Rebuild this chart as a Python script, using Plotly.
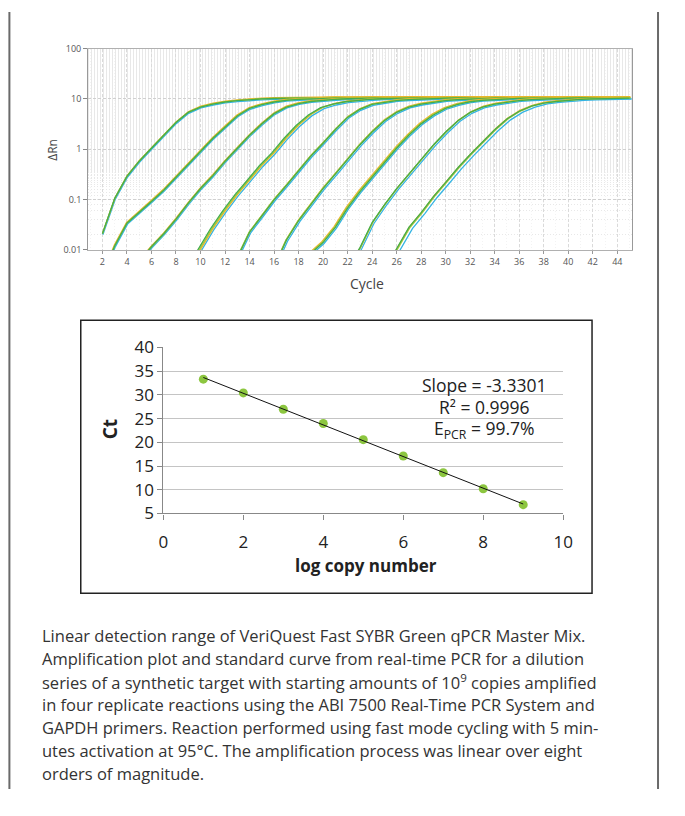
import numpy as np
import plotly.graph_objects as go

# The page adds an 8px body margin, so the figure is sized to fit inside it.
PAGE_W, PAGE_H = 685, 816
OFF = 8
W, H = PAGE_W - 2 * OFF, PAGE_H - 2 * OFF

# ---------------- Amplification plot data ----------------
dilution_labels = ["1e9", "1e8", "1e7", "1e6", "1e5", "1e4", "1e3", "1e2", "1e1"]
start_cycles = [2, 2, 5, 9, 13, 16, 19, 22, 25]
curve_1e9 = [0.021, 0.105, 0.29, 0.58, 1.05, 1.9, 3.4, 5.4, 6.9, 7.9, 8.7, 9.25, 9.7, 10.0,
             10.2, 10.35, 10.45, 10.5, 10.55, 10.6, 10.6, 10.62, 10.63, 10.64, 10.65, 10.66,
             10.67, 10.68, 10.68, 10.69, 10.7, 10.7, 10.7, 10.71, 10.71, 10.72, 10.72, 10.72,
             10.73, 10.73, 10.73, 10.74, 10.74, 10.74]
curve_1e8 = [0.003, 0.012, 0.034, 0.055, 0.092, 0.154, 0.28, 0.50, 0.91, 1.64, 2.75, 4.6, 6.5,
             7.7, 8.7, 9.4, 9.8, 10.1, 10.3, 10.4, 10.5, 10.55, 10.6, 10.6, 10.62, 10.63, 10.64,
             10.65, 10.66, 10.67, 10.68, 10.68, 10.69, 10.7, 10.7, 10.7, 10.71, 10.71, 10.72,
             10.72, 10.72, 10.73, 10.73, 10.73]
curve_1e7 = [0.006, 0.0116, 0.021, 0.041, 0.085, 0.166, 0.30, 0.58, 1.05, 1.9, 3.2, 5.1, 6.9,
             8.1, 8.9, 9.4, 9.8, 10.1, 10.3, 10.4, 10.5, 10.55, 10.6, 10.6, 10.62, 10.63, 10.64,
             10.65, 10.66, 10.67, 10.68, 10.68, 10.69, 10.7, 10.7, 10.7, 10.71, 10.71, 10.72, 10.72, 10.72]
curve_1e6 = [0.004, 0.0105, 0.026, 0.059, 0.124, 0.24, 0.47, 0.84, 1.64, 2.96, 4.8, 6.7, 7.9,
             8.8, 9.4, 9.8, 10.1, 10.3, 10.4, 10.5, 10.55, 10.6, 10.6, 10.62, 10.63, 10.64,
             10.65, 10.66, 10.67, 10.68, 10.68, 10.69, 10.7, 10.7, 10.7, 10.71, 10.71]
curve_1e5 = [0.007, 0.0225, 0.047, 0.099, 0.19, 0.37, 0.73, 1.32, 2.45, 4.3, 6.2, 7.8, 8.6,
             9.3, 9.7, 10.0, 10.2, 10.35, 10.45, 10.5, 10.55, 10.6, 10.6, 10.62, 10.63, 10.64,
             10.65, 10.66, 10.67, 10.68, 10.68, 10.69, 10.7]
curve_1e4 = [0.0045, 0.0155, 0.038, 0.079, 0.166, 0.32, 0.63, 1.22, 2.2, 3.7, 5.4, 6.9, 7.9,
             8.7, 9.3, 9.7, 10.0, 10.2, 10.35, 10.45, 10.5, 10.55, 10.6, 10.6, 10.62, 10.63,
             10.64, 10.65, 10.66, 10.67]
curve_1e3 = [0.0085, 0.014, 0.028, 0.068, 0.143, 0.28, 0.54, 1.05, 1.9, 3.2, 4.8, 6.5, 7.8,
             8.8, 9.4, 9.8, 10.1, 10.3, 10.4, 10.5, 10.55, 10.6, 10.6, 10.62, 10.63, 10.64, 10.65]
curve_1e2 = [0.0045, 0.011, 0.035, 0.079, 0.166, 0.32, 0.63, 1.22, 2.2, 3.7, 5.4, 6.9, 7.9,
             8.7, 9.3, 9.7, 10.0, 10.2, 10.35, 10.45, 10.5, 10.55, 10.6, 10.6]
curve_1e1 = [0.004, 0.0105, 0.028, 0.055, 0.115, 0.22, 0.43, 0.79, 1.4, 2.45, 4.0, 5.7, 7.2,
             8.3, 8.9, 9.4, 9.8, 10.0, 10.2, 10.3, 10.4]
base_curves = [curve_1e9, curve_1e8, curve_1e7, curve_1e6, curve_1e5,
               curve_1e4, curve_1e3, curve_1e2, curve_1e1]

# replicate order: cyan, orange, lime, green (drawing order)
replicate_colors = ["#35b4e3", "#f0b52a", "#a9c93b", "#45ad4c"]
replicate_shift = [  # cycle offsets read per dilution
    [0.04, 0.03, 0.0, 0.0],
    [0.05, -0.03, 0.0, 0.0],
    [0.06, 0.0, 0.03, 0.0],
    [0.08, 0.04, -0.08, -0.2],
    [0.08, 0.03, -0.03, 0.0],
    [0.1, 0.0, -0.03, 0.0],
    [0.08, -0.1, -0.06, 0.0],
    [0.15, 0.08, 0.04, 0.0],
    [0.3, 0.06, 0.1, 0.0],
]
replicate_scale = [0.96, 1.04, 1.01, 1.0]

ytick_vals = [0.01, 0.1, 1, 10, 100]
ytick_text = ["0.01", "0.1", "1", "10", "100"]
xtick_vals = list(range(2, 45, 2))

# ---------------- Standard curve data ----------------
log_copy = [1, 2, 3, 4, 5, 6, 7, 8, 9]
ct_values = [33.3, 30.4, 26.95, 23.95, 20.55, 17.1, 13.6, 10.2, 6.85]
stats_lines = ["Slope = -3.3301", "R² = 0.9996", "E<sub>PCR</sub> = 99.7%"]

caption_lines = [
    "Linear detection range of VeriQuest Fast SYBR Green qPCR Master Mix.",
    "Amplification plot and standard curve from real-time PCR for a dilution",
    "series of a synthetic target with starting amounts of 10<sup>9</sup> copies amplified",
    "in four replicate reactions using the ABI 7500 Real-Time PCR System and",
    "GAPDH primers. Reaction performed using fast mode cycling with 5 min-",
    "utes activation at 95°C. The amplification process was linear over eight",
    "orders of magnitude.",
]


def px(x):
    return (x - OFF) / W


def py(y):
    return 1 - (y - OFF) / H


fig = go.Figure()

for d, (start, vals) in enumerate(zip(start_cycles, base_curves)):
    cycles = np.arange(start, start + len(vals))
    for r, color in enumerate(replicate_colors):
        fig.add_trace(go.Scatter(
            x=cycles + replicate_shift[d][r],
            y=np.array(vals) * replicate_scale[r],
            mode="lines", line=dict(color=color, width=1.3),
            xaxis="x", yaxis="y", showlegend=False, hoverinfo="skip"))

# standard curve
coef = np.polyfit(log_copy, ct_values, 1)
fit_x = [log_copy[0], log_copy[-1]]
fit_y = [coef[0] * v + coef[1] for v in fit_x]
fig.add_trace(go.Scatter(x=log_copy, y=ct_values, mode="markers",
                         marker=dict(color="#8cc63f", size=9),
                         xaxis="x2", yaxis="y2", showlegend=False))
fig.add_trace(go.Scatter(x=fit_x, y=fit_y, mode="lines",
                         line=dict(color="#111111", width=1),
                         xaxis="x2", yaxis="y2", showlegend=False))

FONT = "Open Sans, sans-serif"
small = dict(family=FONT, size=9, color="#555555")
big = dict(family=FONT, size=17, color="#222222")

fig.update_layout(
    width=W, height=H, margin=dict(l=0, r=0, t=0, b=0),
    paper_bgcolor="white", plot_bgcolor="white", showlegend=False,
    xaxis=dict(domain=[px(93), px(649)], range=[0.83, 45.17],
               tickvals=xtick_vals, ticktext=[str(v) for v in xtick_vals],
               tickfont=small, ticks="outside", ticklen=3, tickcolor="#999999",
               showline=True, linecolor="#b0b0b0", linewidth=1, mirror=True,
               showgrid=True, gridcolor="#dadada", griddash="3px,2px", gridwidth=1,
               minor=dict(dtick=1, showgrid=True, gridcolor="#f3f3f3", griddash="1px,2px"),
               zeroline=False, anchor="y"),
    yaxis=dict(domain=[py(253), py(45.7)], type="log", range=[-2, 2],
               tickvals=ytick_vals, ticktext=ytick_text, tickfont=small,
               ticks="outside", ticklen=4, tickcolor="#888888",
               showline=True, linecolor="#999999", linewidth=1, mirror=True,
               showgrid=True, gridcolor="#d0d0d0", griddash="3px,2px", gridwidth=1,
               minor=dict(showgrid=True, gridcolor="#e8e8e8", griddash="1px,2px"),
               zeroline=False, anchor="x"),
    xaxis2=dict(domain=[px(170), px(579)], range=[0, 10], dtick=2, tickfont=big,
                ticks="outside", ticklen=5, tickcolor="#888888", ticklabelstandoff=8,
                showline=True, linecolor="#888888", linewidth=1.2,
                showgrid=False, zeroline=False, anchor="y2"),
    yaxis2=dict(domain=[py(524.3), py(353.3)], range=[5, 40], dtick=5, tickfont=big,
                ticks="outside", ticklen=5, tickcolor="#888888",
                showline=True, linecolor="#888888", linewidth=1.2,
                showgrid=True, gridcolor="#c4c4c4", gridwidth=1.2,
                zeroline=False, anchor="x2"),
)

shapes = [
    dict(type="line", xref="paper", yref="paper", x0=px(12.5), x1=px(12.5), y0=0, y1=1,
         line=dict(color="#6a6a6a", width=2)),
    dict(type="line", xref="paper", yref="paper", x0=px(676), x1=px(676), y0=0, y1=1,
         line=dict(color="#6a6a6a", width=2)),
    dict(type="rect", xref="paper", yref="paper", x0=px(85.5), x1=px(608.5),
         y0=py(606.5), y1=py(325.5), line=dict(color="#222222", width=1.5)),
]
fig.update_layout(shapes=shapes)


def label(text, x, y, size, color="#222222", angle=0, xanchor="center"):
    return dict(text=text, x=px(x), y=py(y), xref="paper", yref="paper",
                showarrow=False, textangle=angle, xanchor=xanchor, yanchor="middle",
                font=dict(family=FONT, size=size, color=color))


ann = [
    label("ΔRn", 57, 150, 12, "#444444", -90),
    label("Cycle", 378, 288, 14, "#444444"),
    label("<b>Ct</b>", 115, 438, 19, angle=-90),
    label("<b>log copy number</b>", 377, 578, 17),
]
for i, t in enumerate(stats_lines):
    ann.append(label(t, 498, 392 + 23 * i, 17.5))
for i, t in enumerate(caption_lines):
    ann.append(label(t, 44, 650 + 23.7 * i, 16.5, "#333333", xanchor="left"))
fig.update_layout(annotations=ann)

fig.write_html("out.html")
